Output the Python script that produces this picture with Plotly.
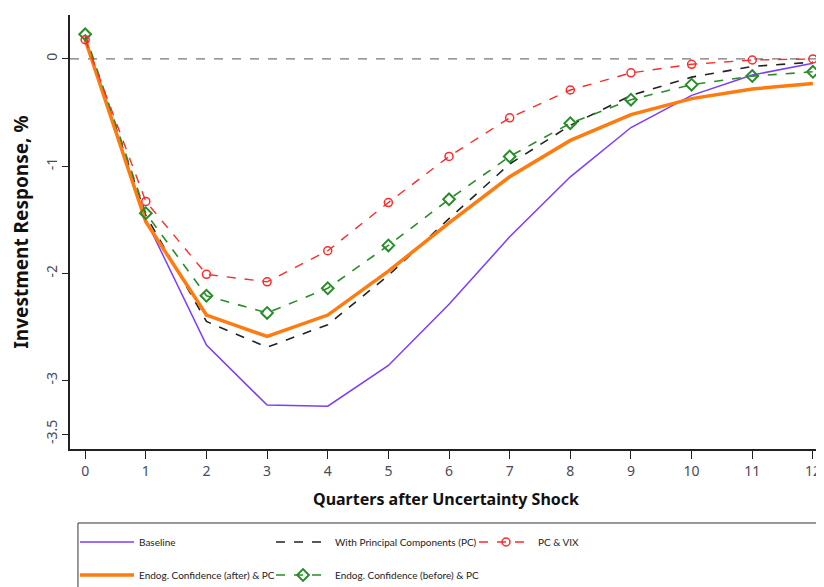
import plotly.graph_objects as go

quarters = list(range(13))
baseline = [0.20, -1.50, -2.67, -3.23, -3.24, -2.86, -2.29, -1.66, -1.10, -0.64, -0.34, -0.15, -0.04]
pc = [0.20, -1.46, -2.45, -2.69, -2.48, -2.02, -1.49, -0.98, -0.62, -0.34, -0.17, -0.07, -0.03]
pc_vix = [0.18, -1.33, -2.01, -2.08, -1.79, -1.34, -0.91, -0.55, -0.29, -0.13, -0.05, -0.01, 0.00]
endog_after = [0.18, -1.52, -2.39, -2.59, -2.39, -1.98, -1.53, -1.10, -0.76, -0.52, -0.37, -0.28, -0.23]
endog_before = [0.23, -1.44, -2.21, -2.37, -2.14, -1.74, -1.31, -0.91, -0.60, -0.38, -0.24, -0.16, -0.12]

y_ticks = [0, -1, -2, -3, -3.5]
y_tick_labels = ["0", "-1", "-2", "-3", "-3.5"]

FONT = "Noto Sans"
LEG_FONT = "Lato"

fig = go.Figure()
fig.add_trace(go.Scatter(x=quarters, y=baseline, mode="lines", name="Baseline",
                         line=dict(color="#7b3cff", width=1.5), legend="legend"))
fig.add_trace(go.Scatter(x=quarters, y=pc, mode="lines", name="With Principal Components (PC)",
                         line=dict(color="#222222", width=1.6, dash="dash"), legend="legend2"))
fig.add_trace(go.Scatter(x=quarters, y=endog_after, mode="lines", name="Endog. Confidence (after) & PC",
                         line=dict(color="#ff7b0f", width=3.5), legend="legend4"))
fig.add_trace(go.Scatter(x=quarters, y=endog_before, mode="lines+markers", name="Endog. Confidence (before) & PC",
                         line=dict(color="#2a8c2a", width=1.6, dash="dash"),
                         marker=dict(symbol="diamond-open", size=9, color="#2a8c2a", line=dict(width=2)),
                         legend="legend5"))
fig.add_trace(go.Scatter(x=quarters, y=pc_vix, mode="lines+markers", name="PC & VIX",
                         line=dict(color="#ff2a2a", width=1.4, dash="dash"),
                         marker=dict(symbol="circle-open", size=8, color="#ff2a2a", line=dict(width=1.5)),
                         legend="legend3"))

fig.add_shape(type="line", xref="paper", yref="y", x0=0, x1=1, y0=0, y1=0,
              line=dict(color="#777777", width=1.2, dash="dash"), layer="below")
# legend frame
fig.add_shape(type="rect", xref="paper", yref="paper", x0=0.0106, x1=0.997, y0=-0.1705, y1=-0.42,
              line=dict(color="#333333", width=1))

legend_common = dict(orientation="h", xanchor="left", yanchor="middle", xref="container", yref="container",
                     bgcolor="rgba(0,0,0,0)", borderwidth=0,
                     font=dict(family=LEG_FONT, size=10, color="#222"), itemwidth=54)

row1_y, row2_y = 0.0903, 0.0341
col_x = [0.0813, 0.3192, 0.5655]

fig.update_layout(
    width=824, height=587,
    margin=dict(l=62, r=10, t=7, b=146),
    paper_bgcolor="white", plot_bgcolor="white",
    font=dict(family=FONT),
    showlegend=True,
    legend=dict(x=col_x[0], y=row1_y, **legend_common),
    legend2=dict(x=col_x[1], y=row1_y, **legend_common),
    legend3=dict(x=col_x[2], y=row1_y, **legend_common),
    legend4=dict(x=col_x[0], y=row2_y, **legend_common),
    legend5=dict(x=col_x[1], y=row2_y, **legend_common),
    xaxis=dict(range=[-0.25, 12.15], tickmode="array", tickvals=quarters, automargin=False,
               ticks="outside", ticklen=8, tickwidth=1.2, tickcolor="#222",
               showline=True, linecolor="#222", linewidth=1.5, showgrid=False, zeroline=False,
               tickfont=dict(family=FONT, size=14, color="#4a4a58"),
               title=dict(text="<b>Quarters after Uncertainty Shock</b>",
                          font=dict(family=FONT, size=16, color="#111"))),
    yaxis=dict(range=[-3.64, 0.41], tickmode="array", tickvals=y_ticks, ticktext=y_tick_labels,
               tickangle=-90, ticks="outside", ticklen=6, tickwidth=1.2, tickcolor="#222", automargin=True,
               showline=True, linecolor="#222", linewidth=1.5, showgrid=False, zeroline=False,
               tickfont=dict(family=FONT, size=14, color="#4a4a58"),
               title=dict(text="<b>Investment Response, %</b>", standoff=8,
                          font=dict(family=FONT, size=19, color="#111"))),
)

fig.write_html("out.html")
